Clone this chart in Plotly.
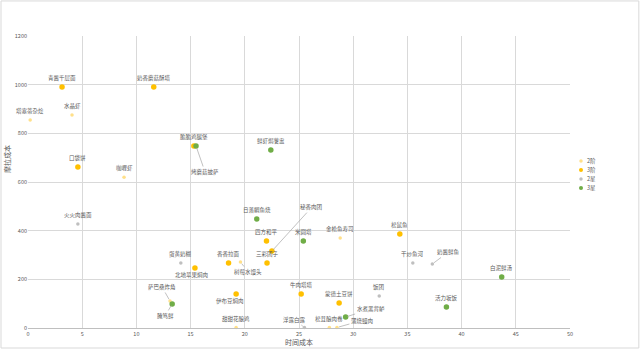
import plotly.graph_objects as go

# ---------------- data ----------------
s1_name = "2阶"
s1_labels = ["塔塞蒂杂烩", "水晶虾", "咖喱虾", "金枪鱼寿司", "树莓水馒头", "萨巴桑炸角", "甜甜花酿鸡", "松茸酿肉卷", "蒲烧鳗肉"]
s1_x = [0.2, 4.06, 8.86, 28.8, 19.6, 13.1, 19.2, 27.8, 28.5]
s1_y = [855, 875, 620, 370, 271, 111, 2, 2, 2]

s2_name = "3阶"
s2_labels = ["青酱千层面", "奶香蘑菇酥塔", "口袋饼", "脆脆鸡腿堡", "秘香肉团", "四方和平", "三彩团子", "北地苹果焖肉", "香香拉面", "伊布豆焖肉", "牛肉塔塔", "蒙德土豆饼", "松鼠鱼"]
s2_x = [3.14, 11.6, 4.6, 15.3, 22.5, 22.0, 22.05, 15.4, 18.5, 19.2, 25.2, 28.7, 34.3]
s2_y = [990, 990, 662, 748, 316, 358, 267, 247, 267, 140, 140, 103, 386]

s3_name = "2星"
s3_labels = ["火火肉酱面", "蛋黄奶糊", "浮露白露", "饭团", "干炒鱼河", "奶酱鲜鱼"]
s3_x = [4.6, 14.1, 25.5, 32.4, 35.5, 37.3]
s3_y = [427, 267, 2, 131, 267, 263]

s4_name = "3星"
s4_labels = ["烤蘑菇披萨", "鲜虾焗薯盅", "日落鲷鱼烧", "米圆塔", "腌笃鲜", "水煮黑背鲈", "白泥鲜汤", "活力坂饭"]
s4_x = [15.5, 22.4, 21.1, 25.4, 13.3, 29.3, 43.7, 38.6]
s4_y = [748, 732, 448, 358, 99, 45, 210, 86]

x_ticks = [0, 5, 10, 15, 20, 25, 30, 35, 40, 45, 50]
y_ticks = [0, 200, 400, 600, 800, 1000, 1200]
x_title = "时间成本"
y_title = "摩拉成本"

# ---------------- style ----------------
FONT = "Noto Sans CJK SC"
TXT = "#595959"
series_style = [
    (s1_name, s1_labels, s1_x, s1_y, "#FFE08A", 3.5),
    (s2_name, s2_labels, s2_x, s2_y, "#FFC000", 5.5),
    (s3_name, s3_labels, s3_x, s3_y, "#BFBFBF", 3.5),
    (s4_name, s4_labels, s4_x, s4_y, "#70AD47", 5.5),
]

# label offsets in pixels (dx, dy, leader line?) ; default: centered above
label_offsets = {
    "烤蘑菇披萨": (9, 26, True),
    "秘香肉团": (40, -44, True),
    "北地苹果焖肉": (-3, 7, False),
    "树莓水馒头": (8, 10, True),
    "萨巴桑炸角": (-8, -14, True),
    "腌笃鲜": (-7, 12, True),
    "伊布豆焖肉": (-6, 7, False),
    "浮露白露": (-10, -8, True),
    "蒲烧鳗肉": (25, -7, True),
    "水煮黑背鲈": (25, -8, True),
    "奶酱鲜鱼": (16, -12, True),
}

fig = go.Figure()
annotations = []
shapes = []
for name, labels, xs, ys, color, size in series_style:
    fig.add_trace(go.Scatter(
        x=xs, y=ys, mode="markers", name=name,
        marker=dict(color=color, size=size, line=dict(width=0)),
        cliponaxis=False, showlegend=False,
    ))
    for lab, xv, yv in zip(labels, xs, ys):
        dx, dy, arrow = label_offsets.get(lab, (0, -9, False))
        if arrow:
            annotations.append(dict(
                x=xv, y=yv, xref="x", yref="y", text=lab, showarrow=True,
                arrowhead=0, arrowwidth=0.7, arrowcolor="#A6A6A6",
                ax=dx, ay=dy, standoff=2,
                font=dict(family=FONT, size=5.5, color=TXT),
            ))
        else:
            annotations.append(dict(
                x=xv, y=yv, xref="x", yref="y", text=lab, showarrow=False,
                xshift=dx, yshift=-dy,
                font=dict(family=FONT, size=5.5, color=TXT),
            ))

# legend (drawn in paper coordinates: plot area is 542 x 292 px)
PW, PH = 542.0, 292.0
for i, (name, _l, _x, _y, color, size) in enumerate(series_style):
    cy = (328 - (161 + 9 * i)) / PH
    cx = (581 - 28) / PW
    r = (size / 2.0 if size < 5 else 2.0)
    shapes.append(dict(type="circle", xref="paper", yref="paper",
                       x0=cx - r / PW, x1=cx + r / PW, y0=cy - r / PH, y1=cy + r / PH,
                       fillcolor=color, line=dict(width=0)))
    annotations.append(dict(x=(585 - 28) / PW, y=cy, xref="paper", yref="paper",
                            xanchor="left", yanchor="middle", text=name, showarrow=False,
                            font=dict(family=FONT, size=5.5, color=TXT)))

# axis titles
annotations.append(dict(x=0.5, y=-0.048, xref="paper", yref="paper", yanchor="middle",
                        text=x_title, showarrow=False,
                        font=dict(family=FONT, size=7, color=TXT)))
annotations.append(dict(x=-0.04, y=0.58, xref="paper", yref="paper",
                        xanchor="center", yanchor="middle",
                        text=y_title, showarrow=False, textangle=-90,
                        font=dict(family=FONT, size=7, color=TXT)))

shapes.append(dict(type="rect", xref="paper", yref="paper",
                   x0=-0.0498, x1=1.127, y0=-0.0685, y1=1.12,
                   line=dict(color="#D9D9D9", width=1), fillcolor="rgba(0,0,0,0)",
                   layer="below"))

fig.update_layout(
    width=640, height=349,
    margin=dict(l=28, r=70, t=36, b=21),
    paper_bgcolor="white", plot_bgcolor="white",
    font=dict(family=FONT, size=6, color=TXT),
    showlegend=False,
    annotations=annotations,
    shapes=shapes,
)
fig.update_xaxes(range=[0, 50], tickvals=x_ticks, showgrid=True, gridcolor="#D9D9D9",
                 gridwidth=1, zeroline=False, showline=True, linecolor="#BFBFBF",
                 ticks="", tickfont=dict(family=FONT, size=5.5, color=TXT))
fig.update_yaxes(range=[0, 1200], tickvals=y_ticks, showgrid=True, gridcolor="#D9D9D9",
                 gridwidth=1, zeroline=False, showline=False,
                 ticks="", tickfont=dict(family=FONT, size=5.5, color=TXT))

fig.write_html("out.html")
